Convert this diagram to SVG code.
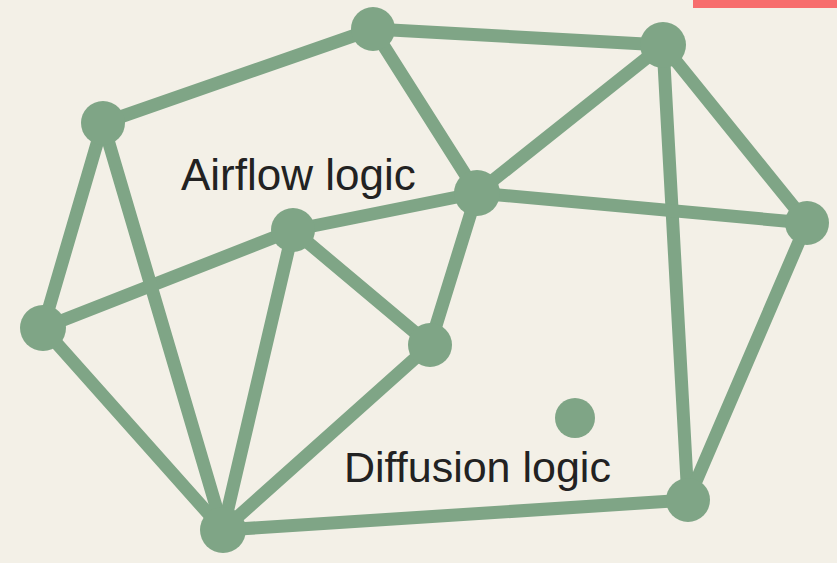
<svg xmlns="http://www.w3.org/2000/svg" width="837" height="563" viewBox="0 0 837 563">
<style>
.e{stroke:#7fa586;stroke-width:13;stroke-linecap:round;fill:none}
.n{fill:#7fa586}
.t{font-family:"Liberation Sans",Arial,sans-serif;fill:#222;}
</style>
<rect width="837" height="563" fill="#f3f0e7"/>
<rect x="693" y="0" width="144" height="8" fill="#f76d6d"/>
<g id="edges">
<line class="e" x1="103" y1="123" x2="373" y2="29"/>
<line class="e" x1="373" y1="29" x2="663" y2="45"/>
<line class="e" x1="373" y1="29" x2="477" y2="193"/>
<line class="e" x1="663" y1="45" x2="477" y2="193"/>
<line class="e" x1="663" y1="45" x2="807" y2="223"/>
<line class="e" x1="663" y1="45" x2="688" y2="500"/>
<line class="e" x1="477" y1="193" x2="807" y2="223"/>
<line class="e" x1="477" y1="193" x2="293" y2="230"/>
<line class="e" x1="477" y1="193" x2="430" y2="345"/>
<line class="e" x1="293" y1="230" x2="43" y2="328"/>
<line class="e" x1="103" y1="123" x2="43" y2="328"/>
<line class="e" x1="103" y1="123" x2="223" y2="530"/>
<line class="e" x1="293" y1="230" x2="430" y2="345"/>
<line class="e" x1="293" y1="230" x2="223" y2="530"/>
<line class="e" x1="43" y1="328" x2="223" y2="530"/>
<line class="e" x1="430" y1="345" x2="223" y2="530"/>
<line class="e" x1="223" y1="530" x2="688" y2="500"/>
<line class="e" x1="807" y1="223" x2="688" y2="500"/>
</g>
<g id="nA"><circle class="n" cx="103" cy="123" r="22"/></g>
<g id="nB"><circle class="n" cx="373" cy="29" r="22"/></g>
<g id="nC"><circle class="n" cx="663" cy="45" r="23"/></g>
<g id="nD"><circle class="n" cx="477" cy="193" r="23"/></g>
<g id="nE"><circle class="n" cx="807" cy="223" r="22"/></g>
<g id="nF"><circle class="n" cx="293" cy="230" r="22"/></g>
<g id="nG"><circle class="n" cx="43" cy="328" r="23"/></g>
<g id="nH"><circle class="n" cx="430" cy="345" r="22"/></g>
<g id="nI"><circle class="n" cx="223" cy="530" r="23"/></g>
<g id="nJ"><circle class="n" cx="688" cy="500" r="22"/></g>
<g id="nK"><circle class="n" cx="575" cy="418" r="20"/></g>
<g id="label-airflow"><text class="t" x="181" y="190" font-size="44">Airflow logic</text></g>
<g id="label-diffusion"><text class="t" x="344" y="482" font-size="43">Diffusion logic</text></g>
</svg>
